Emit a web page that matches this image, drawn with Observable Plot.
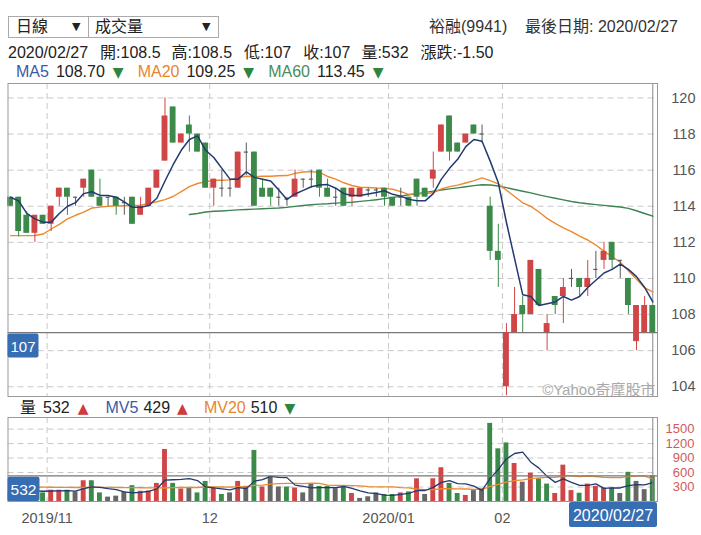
<!DOCTYPE html>
<html><head><meta charset="utf-8">
<script src="https://cdn.jsdelivr.net/npm/d3@7"></script>
<script src="https://cdn.jsdelivr.net/npm/@observablehq/plot@0.6"></script>
<style>
body{margin:0;background:#fff;font-family:"Liberation Sans","Noto Sans CJK TC",sans-serif;color:#222;}
#wrap{position:relative;width:701px;height:535px;overflow:hidden;background:#fff;}
.abs{position:absolute;white-space:nowrap;font-size:16px;line-height:20px;}
.dd{position:absolute;top:16px;height:22px;border:1px solid #aaa;box-sizing:border-box;font-size:16px;line-height:20px;}
.dd span{position:absolute;top:0;}
.tri{font-family:"DejaVu Sans",sans-serif;font-size:11px;}
.dn{color:#2e8540;font-family:"DejaVu Sans",sans-serif;font-size:14px;}
.up{color:#d03a3a;font-family:"DejaVu Sans",sans-serif;font-size:14px;}
#price,#vol{position:absolute;left:0;}
#price{top:80px;}#vol{top:413px;}
</style></head><body><div id="wrap">
<div class="dd" style="left:8px;width:81px"><span style="left:7px">日線</span><span class="tri" style="left:63px">▼</span></div>
<div class="dd" style="left:88px;width:131px"><span style="left:6px">成交量</span><span class="tri" style="left:113px">▼</span></div>
<div class="abs" style="left:429px;top:17px;color:#333">裕融(9941)</div>
<div class="abs" style="left:525px;top:17px;color:#333">最後日期: 2020/02/27</div>
<div class="abs" style="left:8px;top:43px"><span>2020/02/27</span><span style="margin-left:12px">開:108.5</span><span style="margin-left:11px">高:108.5</span><span style="margin-left:12px">低:107</span><span style="margin-left:12px">收:107</span><span style="margin-left:11px">量:532</span><span style="margin-left:12px">漲跌:-1.50</span></div>
<div class="abs" style="left:16px;top:62px"><span style="color:#3b5aa8">MA5</span><span style="margin-left:7px">108.70</span><span class="dn" style="margin-left:8px">▼</span><span style="margin-left:14px;color:#e8862a">MA20</span><span style="margin-left:7px">109.25</span><span class="dn" style="margin-left:8px">▼</span><span style="margin-left:14px;color:#4a8c5c">MA60</span><span style="margin-left:7px">113.45</span><span class="dn" style="margin-left:8px">▼</span></div>
<div class="abs" style="left:20px;top:398px"><span>量</span><span style="margin-left:7px">532</span><span class="up" style="margin-left:8px">▲</span><span style="margin-left:17px;color:#3b5aa8">MV5</span><span style="margin-left:5px">429</span><span class="up" style="margin-left:7px">▲</span><span style="margin-left:16px;color:#e8862a">MV20</span><span style="margin-left:5px">510</span><span class="dn" style="margin-left:7px">▼</span></div>
<div id="price"></div>
<div id="vol"></div>
</div>
<script>
// ---- data ----
const lastDate = "2020/02/27";
const opens = [114.5,114.5,113.5,112.5,113.5,113,114.5,115,114.5,115,
116,114.5,114.5,114.5,114.2,114.5,113.5,114,115,116.5,
119.5,117.5,118.5,118,117.5,115,115,115,115,117,
117,115,115,114.5,114.4,114.5,115.5,115.5,116,115,
114.5,115,114.5,114.5,114.9,114.9,115,114.5,114.5,114.5,
115.5,115,115.5,117,119,117.5,117.5,118.5,118,114,
111.5,104,107,108.5,108,110.5,107,109,109,110,
110,109.5,110.5,111,112,111,110,106.5,107,108.5];
const highs = [114.5,114.5,113.7,113.5,113.5,114,115,115,114.5,115.5,
116,115.5,114.5,114.5,114.5,114.5,114.5,115,116,120,
119.5,118,119,118,117.5,115.5,116,115.5,117,117.5,
117,115.5,115,115,114.5,116,115.5,116,116,115.5,
115,115,115,115,115,115,115,114.5,115,114.5,
115.5,115,117,118.5,119,117.5,118,118.5,118.5,114.5,
113,107.5,109.5,109,111,110.5,108,109,110,110.5,
110,111,111.5,112,112,111,110,108.5,109,108.5];
const lows = [114,112.3,112.5,112,113,112.6,114,113.5,114,114.5,
114.5,114,114,113.5,113.5,113,113.5,114,115,116.5,
117.5,117.5,117,117,115,114,114.5,114.5,115,115.7,
114,114.5,114,114,114,114.5,115,115,114.5,114.5,
114,114,114,114.5,114.5,114.5,114,114,114,114,
114,114.5,115,117,116.5,117,117.5,118,117.5,111,
109.5,103.5,107,107,108,108.5,106,108,107.5,109.5,
109,109,110,110.5,110.5,110,108,106,107,107];
const closes = [114,112.6,112.5,113.5,113,114,115,114.5,114.5,115.5,
114.5,114,114.5,114,114.2,113,114,115,116,119,
117.5,118,118,117,115,115.5,115,115,117,117,
114,114.5,114.5,114.5,114.4,115.5,115.5,115.5,115,114.5,
114.5,114,115,115,114.9,114.9,114.5,114,114.5,114,
114.5,114.5,116,118.5,117,117,118,118,118,111.5,
111,107,108,108,111,108.5,107.5,108.5,109.5,110,
109.5,110,110.5,111.5,111,111,108.5,108.5,108.5,107];
const volumes = [200,230,200,250,178,233,233,233,199,430,
430,178,91,111,193,328,213,213,375,1078,
375,260,280,178,416,280,146,178,416,314,
1058,300,517,300,300,280,178,361,314,314,
267,300,166,64,98,178,146,146,178,199,
470,146,470,699,375,166,126,226,260,1618,
1091,1213,787,401,584,470,361,166,753,226,
172,361,314,280,280,166,605,416,246,532];
const volumeDirs = "ddduduudnuddnnnduuuudunddudnundunndunnddndunnnddudunuuddunndddunudduuuduuudndnnd";
const ma5 = [114.5,114.3,113.6,113.3,113.12,113.12,113.6,114.0,114.2,114.7,
114.8,114.6,114.6,114.5,114.24,113.94,113.94,114.04,114.44,115.4,
116.3,117.1,117.7,117.9,117.1,116.7,116.1,115.5,115.5,115.9,
115.6,115.5,115.4,114.9,114.38,114.68,114.88,115.08,115.18,115.2,
115.0,114.7,114.6,114.6,114.68,114.76,114.86,114.66,114.56,114.38,
114.3,114.3,114.7,115.5,116.1,116.6,117.3,117.7,117.6,116.5,
115.3,113.1,111.1,109.1,109.0,108.5,108.6,108.7,109.0,108.8,
109.0,109.5,109.9,110.3,110.5,110.8,110.5,110.1,109.5,108.7];
const ma20 = [112.37,112.37,112.37,112.38,112.46,112.74,113.0,113.3,113.5,113.67,
113.9,113.95,114.0,114.02,114.03,114.04,114.06,114.15,114.25,114.37,
114.54,114.81,115.09,115.26,115.36,115.44,115.44,115.46,115.59,115.66,
115.64,115.66,115.66,115.69,115.7,115.82,115.9,115.92,115.87,115.65,
115.5,115.3,115.15,115.05,115.04,115.01,114.99,114.94,114.81,114.66,
114.69,114.69,114.76,114.96,115.09,115.17,115.29,115.42,115.57,115.42,
115.24,114.89,114.54,114.19,113.99,113.68,113.33,113.05,112.8,112.6,
112.35,112.13,111.85,111.5,111.2,110.9,110.43,109.95,109.48,109.25];
const ma60 = [null,null,null,null,null,null,null,null,null,null,
null,null,null,null,null,null,null,null,null,null,
null,null,113.54,113.6,113.68,113.72,113.74,113.77,113.8,113.82,
113.84,113.86,113.88,113.9,113.94,113.99,114.04,114.08,114.12,114.14,
114.17,114.2,114.22,114.27,114.31,114.36,114.42,114.48,114.56,114.64,
114.7,114.77,114.84,114.9,114.96,115.02,115.08,115.14,115.19,115.18,
115.12,115.03,114.93,114.83,114.74,114.63,114.53,114.44,114.35,114.26,
114.19,114.14,114.09,114.05,114.0,113.96,113.88,113.75,113.6,113.45];
const mv5 = [230,228,225,220,212,218,219,225,215,266,
305,294,266,248,201,180,187,212,264,441,
451,460,474,434,302,283,260,240,287,267,
422,453,521,498,495,339,315,284,287,289,
287,311,272,222,179,161,130,126,149,169,
228,228,293,397,432,371,367,318,231,479,
664,882,994,1022,815,691,521,396,467,395,
336,336,365,271,281,280,329,349,343,393];
const mv20 = [300,300,300,298,296,295,294,292,290,290,
292,293,292,290,288,286,285,284,282,280,
289,290,294,290,302,305,300,298,308,303,
334,340,361,371,376,374,372,380,376,338,
333,335,329,323,308,302,302,301,289,283,
254,246,244,264,267,262,259,252,250,315,
356,402,433,450,474,489,499,500,529,530,
516,526,518,498,493,493,517,526,526,471];
const monthFirstIdx = [5, 25, 47, 61];
const monthLabels = ["2019/11", "12", "2020/01", "02"];
const priceTicks = [104,106,108,110,112,114,116,118,120];
const volTicks = [300,600,900,1200,1500];

// ---- build ----
const N = closes.length;
const RED = "#d04545", GREEN = "#3b8a4a", GRAY = "#5a5a5a";
const candles = d3.range(N).map(i => ({i, o: opens[i], h: highs[i], l: lows[i], c: closes[i],
  col: closes[i] > opens[i] ? RED : closes[i] < opens[i] ? GREEN : GRAY}));
const bodies = candles.filter(d => d.o !== d.c);
const flats = candles.filter(d => d.o === d.c);
const vols = d3.range(N).map(i => ({i, v: volumes[i], col: volumeDirs[i] === "u" ? RED : volumeDirs[i] === "d" ? GREEN : "#666"}));
const series = arr => arr.map((v, i) => ({i, v}));
const monthPos = monthFirstIdx.map(i => i - 0.5);
const labelOf = new Map(monthPos.map((p, k) => [p, monthLabels[k]]));
const xDomain = [-0.31, 79.58];
const font = "Liberation Sans, Noto Sans CJK TC, sans-serif";
const grid = {stroke: "#c8c8c8", strokeOpacity: 1, strokeDasharray: "6,4"};
const lastClose = closes[N - 1], lastVol = volumes[N - 1];

const price = Plot.plot({
  width: 701, height: 319, marginTop: 3, marginBottom: 3, marginLeft: 7.5, marginRight: 44,
  style: {fontFamily: font, background: "transparent", overflow: "visible"},
  x: {domain: xDomain, axis: null, label: null},
  y: {domain: [103.46, 120.8], axis: null, label: null},
  color: {type: "identity"},
  marks: [
    Plot.gridY(priceTicks, grid),
    Plot.gridX(monthPos, grid),
    Plot.ruleY([lastClose], {stroke: "#777", strokeWidth: 1.2}),
    Plot.ruleX([N - 1], {stroke: "#888", strokeWidth: 1}),
    Plot.line(series(ma60), {x: "i", y: "v", stroke: "#3c8452", strokeWidth: 1.4}),
    Plot.line(series(ma20), {x: "i", y: "v", stroke: "#ec8a2f", strokeWidth: 1.4}),
    Plot.ruleX(candles, {x: "i", y1: "l", y2: "h", stroke: "col", strokeWidth: 1}),
    Plot.rect(bodies, {x1: d => d.i - 0.36, x2: d => d.i + 0.36, y1: "o", y2: "c", fill: "col"}),
    Plot.ruleY(flats, {y: "c", x1: d => d.i - 0.25, x2: d => d.i + 0.25, stroke: GRAY, strokeWidth: 1.2}),
    Plot.line(series(ma5), {x: "i", y: "v", stroke: "#24396f", strokeWidth: 1.5}),
    Plot.axisY(priceTicks, {anchor: "right", tickSize: 0, tickPadding: 38, textAnchor: "end", fill: "#555", fontSize: 14.5, label: null}),
    Plot.text([0], {frameAnchor: "bottom-right", text: () => "©Yahoo奇摩股市", dx: -2, dy: -2, fill: "#aaa", fontSize: 15, textAnchor: "end", lineAnchor: "bottom"}),
    Plot.frame({stroke: "#999"})
  ]
});
document.getElementById("price").appendChild(price);

const vol = Plot.plot({
  width: 701, height: 122, marginTop: 4, marginBottom: 34, marginLeft: 7.5, marginRight: 44,
  style: {fontFamily: font, background: "transparent", overflow: "visible"},
  x: {domain: xDomain, axis: null, label: null},
  y: {domain: [0, 1740], axis: null, label: null},
  color: {type: "identity"},
  marks: [
    Plot.gridY(volTicks, grid),
    Plot.gridX(monthPos, grid),
    Plot.rect(vols, {x1: d => d.i - 0.3, x2: d => d.i + 0.3, y1: 0, y2: "v", fill: "col"}),
    Plot.line(series(mv20), {x: "i", y: "v", stroke: "#ec8a2f", strokeWidth: 1.3}),
    Plot.line(series(mv5), {x: "i", y: "v", stroke: "#24396f", strokeWidth: 1.3}),
    Plot.ruleY([lastVol], {stroke: "#777", strokeWidth: 1.2}),
    Plot.ruleX([N - 1], {stroke: "#888", strokeWidth: 1}),
    Plot.axisY(volTicks, {anchor: "right", tickSize: 0, tickPadding: 37, textAnchor: "end", fill: "#d05a5a", fontSize: 13, label: null, tickFormat: d => String(d)}),
    Plot.axisX(monthPos, {anchor: "bottom", tickSize: 0, tickPadding: 11, tickFormat: d => labelOf.get(d), fill: "#555", fontSize: 14.5, label: null}),
    Plot.frame({stroke: "#999"})
  ]
});
document.getElementById("vol").appendChild(vol);

// crosshair value labels placed with the library's scales
function tag(svg, x, y, w, h, txt, fs) {
  const g = d3.select(svg).append("g");
  g.append("rect").attr("x", x).attr("y", y).attr("width", w).attr("height", h).attr("rx", 2).attr("fill", "#376db3");
  g.append("text").attr("x", x + w / 2).attr("y", y + h / 2 + 0.5).attr("text-anchor", "middle")
    .attr("dominant-baseline", "central").attr("fill", "#fff").attr("font-size", fs)
    .attr("font-family", font).text(txt);
}
const px = price.scale("x"), py = price.scale("y");
const vx = vol.scale("x"), vy = vol.scale("y");
const leftX = px.apply(xDomain[0]);
tag(price, leftX, py.apply(lastClose) + 1.5, 31, 24, String(lastClose), 15);
const vTop = vy.apply(lastVol) + 1.5, vBot = vy.apply(0);
tag(vol, leftX, vTop, 32, vBot - vTop, String(lastVol), 15.5);
const rightX = vx.apply(xDomain[1]);
tag(vol, rightX - 88, vBot + 1, 88, 25, lastDate, 16);
</script>
</body></html>
